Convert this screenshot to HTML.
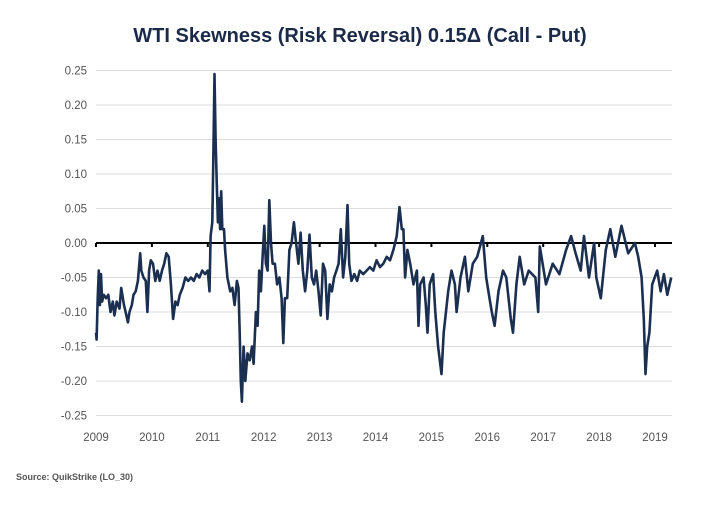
<!DOCTYPE html>
<html><head><meta charset="utf-8"><style>
body{margin:0;background:#fff;width:720px;height:500px;overflow:hidden;font-family:"Liberation Sans",sans-serif}
</style></head><body>
<svg id="chart" width="720" height="500" xmlns="http://www.w3.org/2000/svg">
<text x="360" y="42" text-anchor="middle" font-size="20" font-weight="bold" fill="#1b2a48" font-family="Liberation Sans, sans-serif">WTI Skewness (Risk Reversal) 0.15Δ (Call - Put)</text>
<g id="grid"></g>
<g id="yaxis"></g>
<g id="xaxis"></g>
<g id="series"></g>
<text x="16" y="480" font-size="9" font-weight="bold" fill="#555">Source: QuikStrike (LO_30)</text>
</svg>
<script>
const yTicks=[0.25,0.20,0.15,0.10,0.05,0.00,-0.05,-0.10,-0.15,-0.20,-0.25];
const xTicks=[2009,2010,2011,2012,2013,2014,2015,2016,2017,2018,2019];
const dates=[2009.00,2009.01,2009.03,2009.05,2009.07,2009.09,2009.11,2009.14,2009.18,2009.22,2009.26,2009.30,2009.33,2009.37,2009.42,2009.45,2009.50,2009.53,2009.57,2009.60,2009.64,2009.67,2009.71,2009.75,2009.79,2009.81,2009.85,2009.89,2009.92,2009.95,2009.98,2010.02,2010.06,2010.10,2010.14,2010.18,2010.22,2010.26,2010.30,2010.34,2010.38,2010.42,2010.46,2010.50,2010.55,2010.60,2010.65,2010.70,2010.75,2010.80,2010.85,2010.90,2010.95,2011.00,2011.03,2011.05,2011.08,2011.10,2011.12,2011.14,2011.16,2011.18,2011.20,2011.22,2011.24,2011.26,2011.29,2011.31,2011.35,2011.40,2011.44,2011.48,2011.52,2011.55,2011.57,2011.59,2011.61,2011.64,2011.67,2011.71,2011.75,2011.79,2011.82,2011.86,2011.89,2011.92,2011.95,2011.98,2012.01,2012.04,2012.07,2012.10,2012.13,2012.16,2012.20,2012.24,2012.28,2012.32,2012.35,2012.38,2012.42,2012.46,2012.50,2012.54,2012.58,2012.62,2012.66,2012.70,2012.74,2012.78,2012.82,2012.86,2012.90,2012.94,2012.98,2013.02,2013.06,2013.10,2013.14,2013.18,2013.22,2013.26,2013.30,2013.34,2013.38,2013.42,2013.46,2013.50,2013.53,2013.57,2013.62,2013.67,2013.72,2013.78,2013.84,2013.90,2013.96,2014.02,2014.08,2014.14,2014.20,2014.26,2014.32,2014.38,2014.43,2014.47,2014.50,2014.53,2014.57,2014.62,2014.68,2014.74,2014.77,2014.80,2014.86,2014.90,2014.93,2014.97,2015.03,2015.07,2015.12,2015.18,2015.22,2015.30,2015.36,2015.42,2015.45,2015.52,2015.60,2015.66,2015.74,2015.82,2015.92,2015.98,2016.04,2016.08,2016.13,2016.20,2016.28,2016.34,2016.42,2016.46,2016.52,2016.58,2016.66,2016.74,2016.86,2016.91,2016.94,2017.05,2017.17,2017.29,2017.41,2017.50,2017.58,2017.67,2017.73,2017.82,2017.91,2017.95,2018.03,2018.12,2018.20,2018.29,2018.40,2018.52,2018.64,2018.70,2018.76,2018.80,2018.83,2018.86,2018.90,2018.95,2019.04,2019.10,2019.16,2019.22,2019.29];
const values=[-0.13,-0.14,-0.08,-0.04,-0.09,-0.045,-0.085,-0.075,-0.08,-0.075,-0.1,-0.085,-0.105,-0.085,-0.095,-0.065,-0.09,-0.1,-0.115,-0.1,-0.09,-0.075,-0.07,-0.055,-0.015,-0.04,-0.05,-0.055,-0.1,-0.04,-0.025,-0.03,-0.055,-0.04,-0.055,-0.04,-0.03,-0.015,-0.02,-0.06,-0.11,-0.085,-0.09,-0.075,-0.065,-0.05,-0.055,-0.05,-0.055,-0.045,-0.05,-0.04,-0.045,-0.04,-0.07,0.01,0.03,0.13,0.245,0.15,0.09,0.03,0.065,0.02,0.075,0.02,0.02,-0.01,-0.05,-0.07,-0.065,-0.09,-0.055,-0.065,-0.13,-0.2,-0.23,-0.15,-0.2,-0.16,-0.17,-0.15,-0.175,-0.1,-0.12,-0.04,-0.07,-0.02,0.025,-0.03,-0.04,0.062,0.0,-0.03,-0.03,-0.06,-0.05,-0.08,-0.145,-0.08,-0.08,-0.01,0.0,0.03,0.0,-0.03,0.015,-0.04,-0.07,-0.04,0.012,-0.05,-0.06,-0.04,-0.07,-0.105,-0.03,-0.04,-0.11,-0.06,-0.07,-0.05,-0.04,-0.03,0.02,-0.05,-0.02,0.055,-0.03,-0.055,-0.045,-0.055,-0.04,-0.045,-0.04,-0.035,-0.04,-0.025,-0.035,-0.03,-0.02,-0.025,-0.01,0.01,0.052,0.02,0.02,-0.05,-0.01,-0.03,-0.06,-0.04,-0.12,-0.06,-0.05,-0.09,-0.13,-0.06,-0.045,-0.1,-0.15,-0.19,-0.13,-0.07,-0.04,-0.06,-0.1,-0.05,-0.02,-0.07,-0.03,-0.02,0.01,-0.05,-0.08,-0.1,-0.12,-0.07,-0.04,-0.05,-0.11,-0.13,-0.06,-0.02,-0.06,-0.04,-0.05,-0.1,-0.005,-0.06,-0.03,-0.045,-0.01,0.01,-0.015,-0.04,0.01,-0.05,0.0,-0.05,-0.08,-0.01,0.02,-0.02,0.025,-0.015,0.0,-0.02,-0.05,-0.11,-0.19,-0.15,-0.13,-0.06,-0.04,-0.07,-0.045,-0.075,-0.05];
const NS="http://www.w3.org/2000/svg";
const X0=96,X1=672;
function xs(t){return 96+(t-2009)*55.9;}
function ys(v){return 243-v*690;}
function mk(tag,attrs,parent){const e=document.createElementNS(NS,tag);for(const k in attrs)e.setAttribute(k,attrs[k]);parent.appendChild(e);return e;}
const grid=document.getElementById('grid'),ya=document.getElementById('yaxis'),xa=document.getElementById('xaxis'),se=document.getElementById('series');
yTicks.forEach(v=>{
  if(Math.abs(v)>1e-9){const l=mk('line',{x1:X0,x2:X1,y1:ys(v),y2:ys(v),stroke:'#dcdcdc','stroke-width':1},grid);
  
  }
  const t=mk('text',{x:87,y:ys(v)+4,'text-anchor':'end','font-size':11.5,fill:'#555'},ya);
  
  
  t.textContent=v.toFixed(2);
});
xTicks.forEach(y=>{
  const t=mk('text',{x:xs(y),y:441,'text-anchor':'middle','font-size':11.5,fill:'#555'},xa);
  
  
  t.textContent=y;
  const tk=mk('line',{x1:xs(y),x2:xs(y),y1:ys(0),y2:ys(0)+4,stroke:'#000','stroke-width':2},xa);
  
  
});
const zl=mk('line',{x1:X0,x2:X1,y1:ys(0),y2:ys(0),stroke:'#000','stroke-width':2},xa);


let d='';dates.forEach((t,i)=>{d+=(i?'L':'M')+xs(t).toFixed(1)+','+ys(values[i]).toFixed(1);});
const p=mk('path',{d:d,fill:'none',stroke:'#1b2f50','stroke-width':2.6,'stroke-linejoin':'round'},se);


</script>
</body></html>
